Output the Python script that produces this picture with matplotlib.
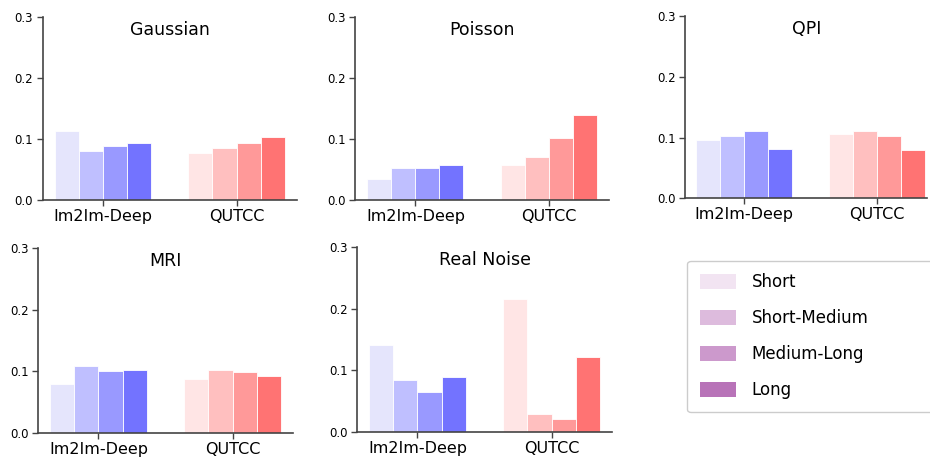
import numpy as np
import matplotlib
matplotlib.use("Agg")
import matplotlib.pyplot as plt
from matplotlib.patches import Patch

# ---------------------------------------------------------------- data
methods = ["Im2Im-Deep", "QUTCC"]
lengths = ["Short", "Short-Medium", "Medium-Long", "Long"]
titles = ["Gaussian", "Poisson", "QPI", "MRI", "Real Noise"]

# values[method] -> one entry per length (Short .. Long)
gaussian_im2im = [0.113, 0.081, 0.088, 0.093]
gaussian_qutcc = [0.077, 0.085, 0.094, 0.103]
poisson_im2im = [0.034, 0.053, 0.053, 0.057]
poisson_qutcc = [0.057, 0.071, 0.101, 0.139]
qpi_im2im = [0.096, 0.103, 0.111, 0.081]
qpi_qutcc = [0.105, 0.110, 0.102, 0.080]
mri_im2im = [0.080, 0.109, 0.101, 0.102]
mri_qutcc = [0.088, 0.102, 0.099, 0.093]
real_im2im = [0.141, 0.084, 0.065, 0.089]
real_qutcc = [0.215, 0.029, 0.021, 0.121]

panel_data = [
    (gaussian_im2im, gaussian_qutcc),
    (poisson_im2im, poisson_qutcc),
    (qpi_im2im, qpi_qutcc),
    (mri_im2im, mri_qutcc),
    (real_im2im, real_qutcc),
]

blues = ["#e5e5fc", "#bfbfff", "#9999ff", "#7373ff"]
reds = ["#ffe5e5", "#ffbfbf", "#ff9999", "#ff7373"]
purples = ["#f2e4f2", "#ddbbdd", "#cc99cc", "#b873b8"]

# ---------------------------------------------------------------- figure
fig = plt.figure(figsize=(9.3, 4.61), dpi=100)

# axes rectangles [left, bottom, width, height] in figure fractions
rects = [
    [0.046, 0.566, 0.273, 0.397],
    [0.382, 0.566, 0.273, 0.397],
    [0.737, 0.570, 0.260, 0.395],
    [0.041, 0.061, 0.274, 0.401],
    [0.384, 0.063, 0.274, 0.401],
]
xlims = [(-0.45, 1.45)] * 2 + [(-0.44, 1.38)] + [(-0.45, 1.45)] * 2

bw = 0.18
offsets = (np.arange(4) - 1.5) * bw
spine_col = "#444444"

for rect, title, (im2im, qutcc), xl in zip(rects, titles, panel_data, xlims):
    ax = fig.add_axes(rect)
    for j in range(4):
        ax.bar(0 + offsets[j], im2im[j], width=bw, color=blues[j],
               edgecolor="white", linewidth=0.6)
        ax.bar(1 + offsets[j], qutcc[j], width=bw, color=reds[j],
               edgecolor="white", linewidth=0.6)
    ax.set_xlim(*xl)
    ax.set_ylim(0, 0.3)
    ax.set_yticks([0.0, 0.1, 0.2, 0.3])
    ax.set_yticklabels(["0.0", "0.1", "0.2", "0.3"], fontsize=8.5)
    ax.set_xticks([0, 1])
    ax.set_xticklabels(methods, fontsize=11.5)
    ax.tick_params(axis="x", length=4, width=1, color=spine_col, pad=2.5)
    ax.tick_params(axis="y", length=4, width=1, color=spine_col, pad=3)
    for s in ["top", "right"]:
        ax.spines[s].set_visible(False)
    for s in ["left", "bottom"]:
        ax.spines[s].set_color(spine_col)
        ax.spines[s].set_linewidth(1.2)
    ax.text(0.5, 0.93, title, transform=ax.transAxes, ha="center",
            va="center", fontsize=12.5)

handles = [Patch(facecolor=c, edgecolor="none") for c in purples]
leg = fig.legend(handles, lengths, loc="upper left",
                 bbox_to_anchor=(0.739, 0.105, 0.35, 0.329), mode="expand",
                 borderaxespad=0.0,
                 fontsize=12, handlelength=2.2, handleheight=1.0,
                 labelspacing=1.08, borderpad=0.75, handletextpad=0.9,
                 frameon=True, fancybox=True, framealpha=1)
leg.get_frame().set_edgecolor("#cccccc")
leg.get_frame().set_linewidth(1.0)

fig.savefig("out.png", dpi=100)
